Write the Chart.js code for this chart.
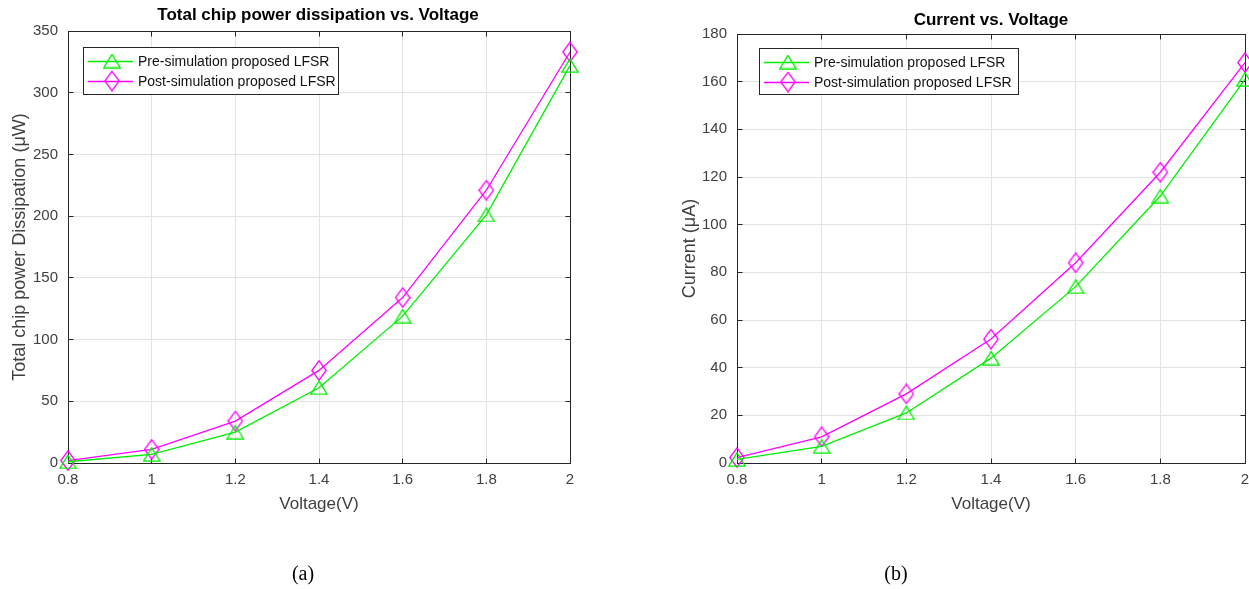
<!DOCTYPE html>
<html><head><meta charset="utf-8">
<script src="https://cdn.jsdelivr.net/npm/chart.js@4"></script>
<style>
html,body{margin:0;padding:0;background:#fff;width:1249px;height:589px;overflow:hidden;position:relative;}
canvas{position:absolute;top:0;}
#c1{left:0;} #c2{left:630px;}
.cap{position:absolute;top:562px;line-height:23px;font:20px "Liberation Serif","Times New Roman",serif;color:#000;transform:translateX(-50%);}
</style></head><body>
<canvas id="c1" width="630" height="589"></canvas>
<canvas id="c2" width="660" height="589"></canvas>
<div class="cap" style="left:303px">(a)</div>
<div class="cap" style="left:896px">(b)</div>
<script>
// ---- data ----
const voltageLabels = ['0.8', '1', '1.2', '1.4', '1.6', '1.8', '2'];
const seriesNames = ['Pre-simulation proposed LFSR', 'Post-simulation proposed LFSR'];
const powerPre  = [1, 7, 25, 61, 119, 201, 322];
const powerPost = [2, 11, 34, 75, 134, 221, 333];
const currentPre  = [1.5, 7, 21, 44, 74, 112, 161];
const currentPost = [2.3, 11, 29, 52, 84, 122, 168];
const powerAxis = [0, 350, 50];    // min, max, step
const currentAxis = [0, 180, 20];  // min, max, step

// ---- styles ----
const preColor = '#00ee00';
const postColor = '#ff00ff';
const gridColor = '#e2e2e2';
const tickColor = '#404040';
const frameColor = '#262626';
const FONT = '"Liberation Sans", Arial, sans-serif';
Chart.defaults.font.family = FONT;
Chart.defaults.color = tickColor;

function makeTriangle(color) {
  const c = document.createElement('canvas');
  c.width = 18; c.height = 15;
  const g = c.getContext('2d');
  g.strokeStyle = color; g.lineWidth = 1.3;
  g.beginPath(); g.moveTo(9, 0.8); g.lineTo(17.2, 14.2); g.lineTo(0.8, 14.2); g.closePath(); g.stroke();
  return c;
}
function makeDiamond(color) {
  const c = document.createElement('canvas');
  c.width = 16; c.height = 21;
  const g = c.getContext('2d');
  g.strokeStyle = color; g.lineWidth = 1.3;
  g.beginPath(); g.moveTo(8, 0.8); g.lineTo(15.2, 10.5); g.lineTo(8, 20.2); g.lineTo(0.8, 10.5); g.closePath(); g.stroke();
  return c;
}
const triMarker = makeTriangle(preColor);
const diaMarker = makeDiamond(postColor);

const framePlugin = {
  id: 'frame',
  beforeDatasetsDraw(chart) {
    const ctx = chart.ctx, a = chart.chartArea;
    ctx.save();
    ctx.strokeStyle = frameColor; ctx.lineWidth = 1;
    const L = Math.floor(a.left) + 0.5, R = Math.floor(a.right) + 0.5;
    const T = Math.floor(a.top) + 0.5, B = Math.floor(a.bottom) + 0.5;
    ctx.strokeRect(L, T, R - L, B - T);
    const tl = 5;
    ctx.beginPath();
    chart.scales.x.ticks.forEach((t, i) => {
      const px = Math.floor(chart.scales.x.getPixelForTick(i)) + 0.5;
      ctx.moveTo(px, B); ctx.lineTo(px, B - tl);
      ctx.moveTo(px, T); ctx.lineTo(px, T + tl);
    });
    chart.scales.y.ticks.forEach((t, i) => {
      const py = Math.floor(chart.scales.y.getPixelForTick(i)) + 0.5;
      ctx.moveTo(L, py); ctx.lineTo(L + tl, py);
      ctx.moveTo(R, py); ctx.lineTo(R - tl, py);
    });
    ctx.stroke();
    ctx.restore();
  }
};

const titlePlugin = {
  id: 'chartTitle',
  afterDraw(chart, args, opts) {
    const ctx = chart.ctx, a = chart.chartArea;
    ctx.save();
    ctx.font = 'bold 17px ' + FONT;
    ctx.fillStyle = '#000';
    ctx.textAlign = 'center'; ctx.textBaseline = 'middle';
    ctx.fillText(opts.text, (a.left + a.right) / 2 + opts.dx, opts.y);
    ctx.restore();
  }
};

const legendPlugin = {
  id: 'boxLegend',
  afterDatasetsDraw(chart, args, opts) {
    const ctx = chart.ctx, a = chart.chartArea;
    const x = Math.floor(a.left + opts.dx), y = Math.floor(a.top + opts.dy);
    ctx.save();
    ctx.fillStyle = '#fff';
    ctx.fillRect(x, y, opts.w, opts.h);
    ctx.strokeStyle = frameColor; ctx.lineWidth = 1;
    ctx.strokeRect(x + 0.5, y + 0.5, opts.w, opts.h);
    chart.data.datasets.forEach((ds, i) => {
      const cy = y + opts.rows[i];
      ctx.strokeStyle = ds.borderColor; ctx.lineWidth = 1.3;
      ctx.beginPath(); ctx.moveTo(x + 5, cy + 0.5); ctx.lineTo(x + 50, cy + 0.5); ctx.stroke();
      const img = ds.pointStyle;
      ctx.drawImage(img, x + 29 - img.width / 2, cy - img.height / 2);
      ctx.fillStyle = '#111';
      ctx.font = '14px ' + FONT;
      ctx.textAlign = 'left'; ctx.textBaseline = 'middle';
      ctx.fillText(ds.label, x + 55, cy + 1);
    });
    ctx.restore();
  }
};

function buildChart(id, cfg) {
  return new Chart(document.getElementById(id), {
    type: 'line',
    data: {
      labels: voltageLabels,
      datasets: [
        { label: seriesNames[0], data: cfg.pre, borderColor: preColor, backgroundColor: preColor,
          borderWidth: 1.3, pointStyle: triMarker, pointRadius: 8, tension: 0, clip: false, fill: false },
        { label: seriesNames[1], data: cfg.post, borderColor: postColor, backgroundColor: postColor,
          borderWidth: 1.3, pointStyle: diaMarker, pointRadius: 8, tension: 0, clip: false, fill: false }
      ]
    },
    options: {
      responsive: false, animation: false, events: [],
      layout: { padding: cfg.padding },
      scales: {
        x: {
          type: 'category', offset: false,
          grid: { color: gridColor, drawTicks: false, offset: false },
          border: { display: false },
          ticks: { padding: 8, font: { size: 15 }, color: tickColor, maxRotation: 0, autoSkip: false },
          title: { display: true, text: 'Voltage(V)', font: { size: 17 }, color: tickColor, padding: { top: 4, bottom: 4 } },
          afterFit: s => { s.height = 56; s.paddingLeft = 0; s.paddingRight = 0; }
        },
        y: {
          min: cfg.axis[0], max: cfg.axis[1],
          grid: { color: gridColor, drawTicks: false },
          border: { display: false },
          ticks: { stepSize: cfg.axis[2], padding: 10, font: { size: 15 }, color: tickColor },
          title: { display: true, text: cfg.yTitle, font: { size: 18 }, color: tickColor, padding: { top: 4, bottom: 4 } },
          afterFit: s => { s.width = cfg.yWidth; s.paddingTop = 0; s.paddingBottom = 0; }
        }
      },
      plugins: {
        legend: { display: false },
        tooltip: { enabled: false },
        chartTitle: cfg.title,
        boxLegend: cfg.legend
      }
    },
    plugins: [framePlugin, legendPlugin, titlePlugin]
  });
}

buildChart('c1', {
  pre: powerPre, post: powerPost, axis: powerAxis,
  yTitle: 'Total chip power Dissipation (\u03bcW)',
  padding: { left: 5, right: 60, top: 31, bottom: 70 },
  yWidth: 63,
  title: { text: 'Total chip power dissipation vs. Voltage', y: 15, dx: -1 },
  legend: { dx: 15, dy: 16, w: 255, h: 47, rows: [14, 34] }
});

buildChart('c2', {
  pre: currentPre, post: currentPost, axis: currentAxis,
  yTitle: 'Current (\u03bcA)',
  padding: { left: 45, right: 45, top: 34, bottom: 70 },
  yWidth: 62,
  title: { text: 'Current vs. Voltage', y: 20, dx: 0 },
  legend: { dx: 22, dy: 14, w: 259, h: 46, rows: [14, 34] }
});
</script>
</body></html>
